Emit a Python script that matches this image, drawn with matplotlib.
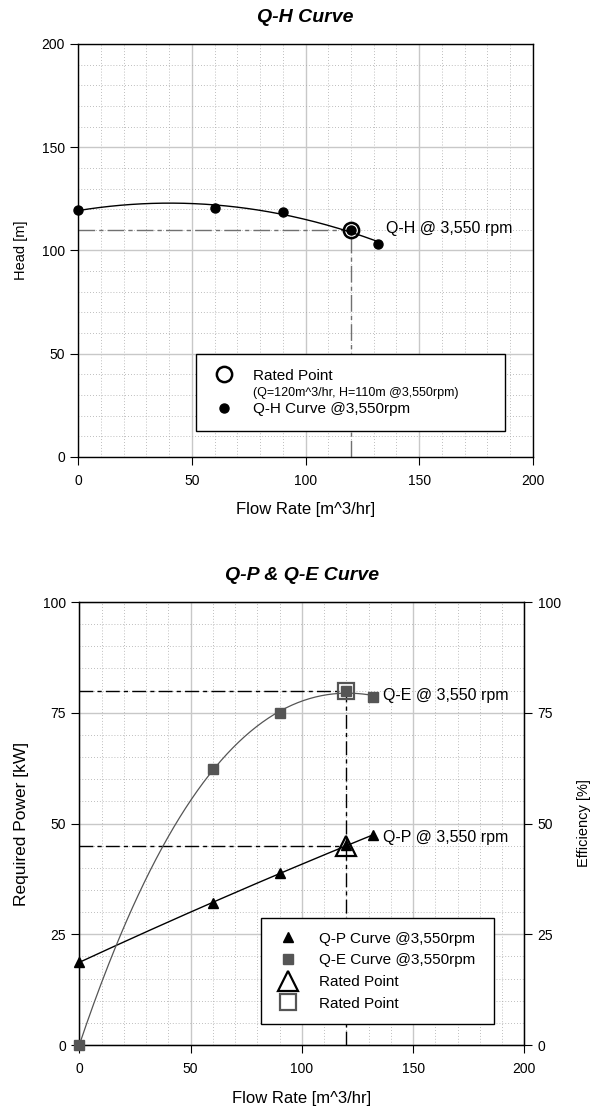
import matplotlib.pyplot as plt
import numpy as np
from matplotlib.ticker import MultipleLocator
from matplotlib.lines import Line2D

plt.rcParams['font.family'] = ['Liberation Sans', 'DejaVu Sans']

# Q-H data
flow = [0, 60, 90, 120, 132]
head = [119.6, 120.8, 118.4, 110.1, 103.0]
rated_q, rated_h = 120, 110

# Q-P / Q-E data
power = [18.7, 32.0, 38.9, 45.1, 47.3]
eff = [0.0, 62.2, 74.9, 80.0, 78.6]
rated_p, rated_e = 45, 80

fig = plt.figure(figsize=(5.95, 11.11), dpi=100)


def style_axes(ax, ymax, ymaj, ymin):
    ax.set_xlim(0, 200)
    ax.set_ylim(0, ymax)
    ax.xaxis.set_major_locator(MultipleLocator(50))
    ax.xaxis.set_minor_locator(MultipleLocator(10))
    ax.yaxis.set_major_locator(MultipleLocator(ymaj))
    ax.yaxis.set_minor_locator(MultipleLocator(ymin))
    ax.grid(which='major', color='#c8c8c8', lw=1.0, ls='-')
    ax.grid(which='minor', color='#a8a8a8', lw=0.6, ls=(0, (1, 2.5)))
    ax.set_axisbelow(True)
    ax.tick_params(which='major', direction='out', length=6, labelsize=10)
    ax.tick_params(axis='x', pad=6)
    ax.tick_params(which='minor', length=0)
    for s in ax.spines.values():
        s.set_linewidth(1.0)


# ---- Q-H curve ----
ax1 = fig.add_axes([0.1316, 0.5887, 0.7637, 0.3717])
style_axes(ax1, 200, 50, 10)

qq = np.linspace(0, max(flow), 200)
c = np.polyfit(flow, head, 2)
ax1.plot(qq, np.polyval(c, qq), color='black', lw=1.0, zorder=3)
pts1, = ax1.plot(flow, head, 'o', color='black', ms=6.5, zorder=4, clip_on=False)
dd = (0, (12, 3, 3, 3))
ax1.plot([0, rated_q], [rated_h, rated_h], color='#707070', lw=1.0, ls=dd, zorder=2)
ax1.plot([rated_q, rated_q], [0, rated_h], color='#707070', lw=1.0, ls=dd, zorder=2)
rp1, = ax1.plot([rated_q], [rated_h], 'o', mfc='none', mec='black', mew=1.8, ms=11, zorder=5)
ax1.text(135.5, rated_h + 0.5, 'Q-H @ 3,550 rpm', fontsize=11.5, va='center', ha='left')

ax1.set_title('Q-H Curve', fontsize=14, fontweight='bold', style='italic', pad=16)
ax1.set_xlabel('Flow Rate [m^3/hr]', fontsize=12, labelpad=10)
ax1.set_ylabel('Head [m]', fontsize=10.5, labelpad=10)

blank = Line2D([], [], ls='none')
leg1 = ax1.legend([rp1, blank, pts1],
                  ['Rated Point', '(Q=120m^3/hr, H=110m @3,550rpm)', 'Q-H Curve @3,550rpm'],
                  loc='upper left', bbox_to_anchor=(0.258, 0.065, 0.68, 0.184), mode='expand',
                  fontsize=11, frameon=True, fancybox=False, edgecolor='black', framealpha=1,
                  borderpad=0.95, labelspacing=0.2, handlelength=1.8, handletextpad=1.0,
                  borderaxespad=0)
leg1.get_frame().set_linewidth(1.0)
leg1.get_texts()[1].set_fontsize(9)

# ---- Q-P & Q-E curve ----
ax2 = fig.add_axes([0.1333, 0.0594, 0.7479, 0.3987])
style_axes(ax2, 100, 25, 5)
ax3 = ax2.twinx()
ax3.set_ylim(0, 100)
ax3.yaxis.set_major_locator(MultipleLocator(25))
ax3.tick_params(direction='out', length=6, labelsize=10)

cp = np.polyfit(flow, power, 2)
ce = np.polyfit(flow, eff, 3)
ax3.plot(qq, np.polyval(ce, qq), color='#555555', lw=0.9, zorder=3)
ax3.plot(flow, eff, 's', color='#555555', ms=6.5, zorder=4, clip_on=False)
ax2.plot(qq, np.polyval(cp, qq), color='black', lw=1.0, zorder=3)
ax2.plot(flow, power, '^', color='black', ms=7, zorder=4, clip_on=False)

dash = (0, (10, 3, 3, 3))
ax2.plot([0, rated_q], [rated_p, rated_p], color='black', lw=1.0, ls=dash, zorder=2)
ax3.plot([0, rated_q], [rated_e, rated_e], color='black', lw=1.0, ls=dash, zorder=2)
ax3.plot([rated_q, rated_q], [0, rated_e], color='black', lw=1.0, ls=dash, zorder=2)
ax3.plot([rated_q], [rated_p], '^', mfc='none', mec='black', mew=1.6, ms=14, zorder=5)
ax3.plot([rated_q], [rated_e], 's', mfc='none', mec='#555555', mew=1.6, ms=12, zorder=5)

ax3.text(136.5, 46.8, 'Q-P @ 3,550 rpm', fontsize=11.5, va='center', ha='left')
ax3.text(136.5, 78.8, 'Q-E @ 3,550 rpm', fontsize=11.5, va='center', ha='left')

ax2.set_title('Q-P & Q-E Curve', fontsize=14, fontweight='bold', style='italic', pad=16)
ax2.set_xlabel('Flow Rate [m^3/hr]', fontsize=12, labelpad=11)
ax2.set_ylabel('Required Power [kW]', fontsize=12.5, labelpad=10)
ax3.set_ylabel('Efficiency [%]', fontsize=10.5, labelpad=12)

handles = [Line2D([], [], marker='^', color='black', ls='none', ms=7),
           Line2D([], [], marker='s', color='#555555', ls='none', ms=6.5),
           Line2D([], [], marker='^', mfc='none', mec='black', mew=1.6, ls='none', ms=14),
           Line2D([], [], marker='s', mfc='none', mec='#555555', mew=1.6, ls='none', ms=12)]
leg2 = ax3.legend(handles, ['Q-P Curve @3,550rpm', 'Q-E Curve @3,550rpm', 'Rated Point', 'Rated Point'],
                  loc='upper left', bbox_to_anchor=(0.408, 0.05, 0.525, 0.237), mode='expand',
                  fontsize=11, frameon=True, fancybox=False, edgecolor='black', framealpha=1,
                  borderpad=0.9, labelspacing=0.5, handlelength=1.8, handletextpad=1.1,
                  borderaxespad=0)
leg2.get_frame().set_linewidth(1.0)

fig.savefig('out.png', dpi=100)
